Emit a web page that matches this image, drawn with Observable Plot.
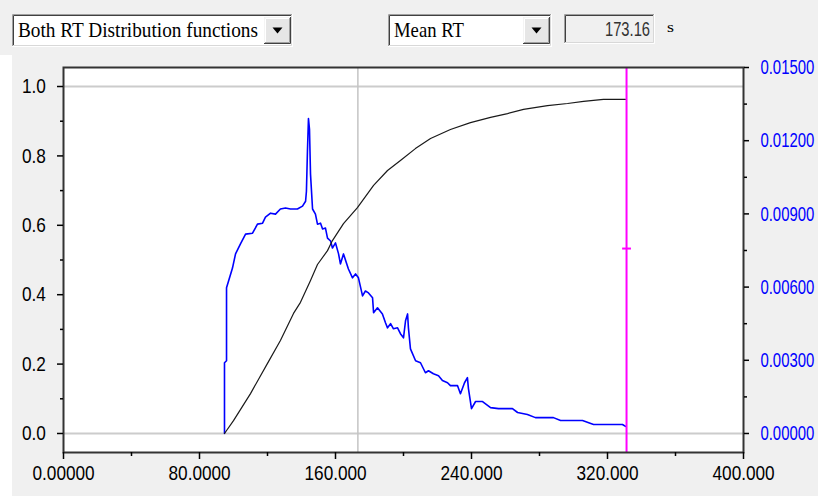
<!DOCTYPE html>
<html><head><meta charset="utf-8">
<script src="https://cdn.jsdelivr.net/npm/d3@7"></script>
<script src="https://cdn.jsdelivr.net/npm/@observablehq/plot@0.6"></script>
<style>
html,body{margin:0;padding:0;overflow:hidden;background:#fff;}
#wrap{width:818px;height:499px;position:relative;background:#f0f0f0;overflow:hidden;}
#strip{position:absolute;left:0;top:55px;width:12px;height:444px;background:#fff;}
#bottom{position:absolute;left:0;top:496px;width:818px;height:3px;background:#fff;}
svg{display:block;}
</style></head><body>
<div id="wrap"><div id="hdr"></div><div id="chart"></div><div id="strip"></div><div id="bottom"></div></div>
<script>
// ---- data ----
const xTicks = [0, 80, 160, 240, 320, 400];
const xTickLabels = ["0.00000", "80.0000", "160.000", "240.000", "320.000", "400.000"];
const xMinor = [40, 120, 200, 280, 360];
const yTicks = [0, 0.2, 0.4, 0.6, 0.8, 1.0];
const yTickLabels = ["0.0", "0.2", "0.4", "0.6", "0.8", "1.0"];
const yMinor = [0.1, 0.3, 0.5, 0.7, 0.9];
const rTicks = [0, 0.003, 0.006, 0.009, 0.012, 0.015];
const rTickLabels = ["0.00000", "0.00300", "0.00600", "0.00900", "0.01200", "0.01500"];
const rMinor = [0.0015, 0.0045, 0.0075, 0.0105, 0.0135];
const gridY = [0, 1];
const Y_BOTTOM = -0.0548, Y_TOP = 1.0548;   // left-axis extent of the frame
const R_TOP = 0.015;                         // right-axis value at frame top
const meanRT = 173.16;
const cutoff = 331.2;
const cutoffMarker = 0.533;

const cdfX = [94.7,100,110,120,127.6,135.3,139.4,145.3,149.4,155.3,158.2,164.7,172.9,182.4,190.6,198.2,207,215.9,227.6,239.4,251.2,261.2,270.6,284.7,296.5,305.9,317.6,330.6];
const cdfY = [0,0.037,0.115,0.202,0.268,0.346,0.378,0.441,0.487,0.527,0.556,0.605,0.651,0.715,0.758,0.787,0.821,0.850,0.876,0.896,0.911,0.922,0.934,0.945,0.951,0.957,0.963,0.963];

const pdfX = [94.7,94.7,95.9,95.9,97.1,99.4,101.2,104.1,107.1,111.2,114.1,117.1,118.8,121.8,124.7,127.6,130.6,133.5,137.6,140.6,142.4,142.9,143.5,144.1,144.7,145.3,146.5,148.2,149.4,151.2,152.4,154.1,155.3,157.1,158.2,160,161.8,162.9,164.7,167.6,170,171.8,173.5,175.9,177.6,179.4,181.8,182.4,184.7,187.6,189.4,190.6,192.4,194.1,196.5,198.2,200,201.2,202.4,202.9,204.1,207.1,210,212.9,214.7,217.6,220.6,222.9,225.9,227.6,231.8,233.5,235.9,237.6,238.2,240,242.4,246.5,251.2,255.9,264.1,267.1,272.9,277.6,288.2,292.4,305.3,311.8,328.8,330.6];
const pdfY = [0,0.00290,0.00298,0.00597,0.00625,0.00678,0.00736,0.00777,0.00817,0.00821,0.00858,0.00862,0.00887,0.00903,0.00899,0.00920,0.00924,0.00920,0.00920,0.00932,0.00952,0.00993,0.01157,0.01291,0.01247,0.01063,0.00920,0.00899,0.00858,0.00862,0.00838,0.00842,0.00801,0.00789,0.00760,0.00781,0.00736,0.00695,0.00736,0.00674,0.00638,0.00654,0.00638,0.00564,0.00584,0.00576,0.00556,0.00495,0.00515,0.00490,0.00454,0.00433,0.00450,0.00429,0.00433,0.00409,0.00392,0.00462,0.00490,0.00433,0.00347,0.00298,0.00290,0.00249,0.00257,0.00245,0.00237,0.00217,0.00208,0.00196,0.00196,0.00163,0.00208,0.00229,0.00184,0.00102,0.00131,0.00131,0.00106,0.00102,0.00102,0.00086,0.00078,0.00065,0.00065,0.00053,0.00053,0.00037,0.00037,0.00029];

// header texts
const selector1 = "Both RT Distribution functions";
const selector2 = "Mean RT";
const statValue = "173.16";
const statUnit = "s";

// ---- header (dialog controls) ----
const hdr = d3.select("#hdr").append("svg").attr("width", 818).attr("height", 55);
hdr.append("rect").attr("width", 818).attr("height", 55).attr("fill", "#f0f0f0");
function line(g, d, c) { g.append("path").attr("d", d).attr("stroke", c).attr("fill", "none").attr("stroke-width", 1); }
function sunken(x, y, w, h, fill) {
  const g = hdr.append("g");
  g.append("rect").attr("x", x).attr("y", y).attr("width", w).attr("height", h).attr("fill", fill);
  line(g, `M${x+0.5},${y+h}V${y+0.5}H${x+w}`, "#a0a0a0");
  line(g, `M${x+1.5},${y+h-1}V${y+1.5}H${x+w-1}`, "#404040");
  line(g, `M${x},${y+h-0.5}H${x+w-0.5}V${y}`, "#ffffff");
  line(g, `M${x+1},${y+h-1.5}H${x+w-1.5}V${y+1}`, "#d8d8d8");
}
function button(x, y, w, h) {
  const g = hdr.append("g");
  g.append("rect").attr("x", x).attr("y", y).attr("width", w).attr("height", h).attr("fill", "#e6e6e6");
  line(g, `M${x+0.5},${y+h}V${y+0.5}H${x+w}`, "#f4f4f4");
  line(g, `M${x+1.5},${y+h-1}V${y+1.5}H${x+w-1}`, "#ffffff");
  line(g, `M${x},${y+h-0.5}H${x+w-0.5}V${y}`, "#404040");
  line(g, `M${x+1},${y+h-1.5}H${x+w-1.5}V${y+1}`, "#a0a0a0");
  const cx = x + w / 2, cy = y + h / 2;
  g.append("path").attr("d", `M${cx-5},${cy-3}H${cx+5}L${cx},${cy+3}Z`).attr("fill", "#000");
}
function label(x, y, s, fam, size, len, anchor, color) {
  hdr.append("text").attr("x", x).attr("y", y).text(s)
    .attr("font-family", fam).attr("font-size", size)
    .attr("textLength", len).attr("lengthAdjust", "spacingAndGlyphs")
    .attr("text-anchor", anchor || "start").attr("fill", color || "#000");
}
sunken(12, 14, 281, 33, "#ffffff");
button(264, 17, 27, 27);
label(18, 37, selector1, "'Liberation Serif', serif", 21, 240);
sunken(388, 14, 164, 33, "#ffffff");
button(523, 17, 27, 27);
label(394, 37, selector2, "'Liberation Serif', serif", 21, 70);
sunken(564, 14, 91, 30, "#f0f0f0");
label(650, 36, statValue, "'Liberation Sans', sans-serif", 20, 45, "end", "#333");
label(667, 32, statUnit, "'Liberation Serif', serif", 15, 7);

// ---- chart ----
const k = Y_TOP / R_TOP; // right-axis units -> left-axis units
const cdf = cdfX.map((t, i) => ({t, v: cdfY[i]}));
const pdf = pdfX.map((t, i) => ({t, v: pdfY[i] * k}));
const xLab = new Map(xTicks.map((d, i) => [d, xTickLabels[i]]));
const yLab = new Map(yTicks.map((d, i) => [d, yTickLabels[i]]));
const rVals = rTicks.map(d => d * k);
const rLab = new Map(rVals.map((d, i) => [d, rTickLabels[i]]));
const rMinorVals = rMinor.map(d => d * k);

const chart = Plot.plot({
  width: 818, height: 444,
  marginLeft: 63, marginRight: 75, marginTop: 12, marginBottom: 47,
  style: {background: "transparent", fontFamily: "'Liberation Sans', Arial, sans-serif", fontSize: "21px", color: "black"},
  x: {domain: [0, 400]},
  y: {domain: [Y_BOTTOM, Y_TOP]},
  marks: [
    Plot.frame({fill: "white", stroke: "none"}),
    Plot.ruleY(gridY, {stroke: "#cccccc", strokeWidth: 2}),
    Plot.ruleX([meanRT], {stroke: "#c4c4c4", strokeWidth: 1.5}),
    Plot.line(pdf, {x: "t", y: "v", stroke: "#0000ff", strokeWidth: 1.6}),
    Plot.line(cdf, {x: "t", y: "v", stroke: "#1a1a1a", strokeWidth: 1.2}),
    Plot.ruleX([cutoff], {stroke: "#ff00ff", strokeWidth: 2}),
    Plot.link([cutoffMarker], {x1: cutoff - 2.6, x2: cutoff + 2.6, y1: d => d, y2: d => d, stroke: "#ff00ff", strokeWidth: 2}),
    Plot.frame({stroke: "#333", strokeWidth: 2}),
    Plot.axisX(xTicks, {tickSize: 7, tickPadding: 6, tickFormat: d => xLab.get(d), label: null, strokeWidth: 1.5}),
    Plot.axisX(xMinor, {tickSize: 4, tickFormat: () => "", label: null, strokeWidth: 1.5}),
    Plot.axisY(yTicks, {anchor: "left", tickSize: 6, tickPadding: 9, tickFormat: d => yLab.get(d), label: null, strokeWidth: 1.5}),
    Plot.axisY(yMinor, {anchor: "left", tickSize: 3, tickFormat: () => "", label: null, strokeWidth: 1.5}),
    Plot.axisY(rVals, {anchor: "right", tickSize: 5, tickPadding: 8, tickFormat: d => rLab.get(d), fill: "#0000ff", stroke: "black", label: null, strokeWidth: 1.5}),
    Plot.axisY(rMinorVals, {anchor: "right", tickSize: 3, tickFormat: () => "", label: null, strokeWidth: 1.5})
  ]
});
document.querySelector("#chart").append(chart);
// narrow the tick labels horizontally (condensed look), pivoting on each label's anchor
const svgLeft = chart.getBoundingClientRect().left;
chart.querySelectorAll("text").forEach(t => {
  const r = t.getBoundingClientRect();
  if (r.width <= 0) return;
  const anchor = getComputedStyle(t).textAnchor;
  const left = r.left - svgLeft, right = r.right - svgLeft;
  const pivot = anchor === "end" ? right : anchor === "middle" ? (left + right) / 2 : left;
  const s = left > 740 ? 54 / r.width : 0.82;
  const old = t.getAttribute("transform") || "";
  t.setAttribute("transform", `translate(${pivot.toFixed(2)},0) scale(${s.toFixed(4)},1) translate(${(-pivot).toFixed(2)},0) ${old}`.trim());
});
</script>
</body></html>
